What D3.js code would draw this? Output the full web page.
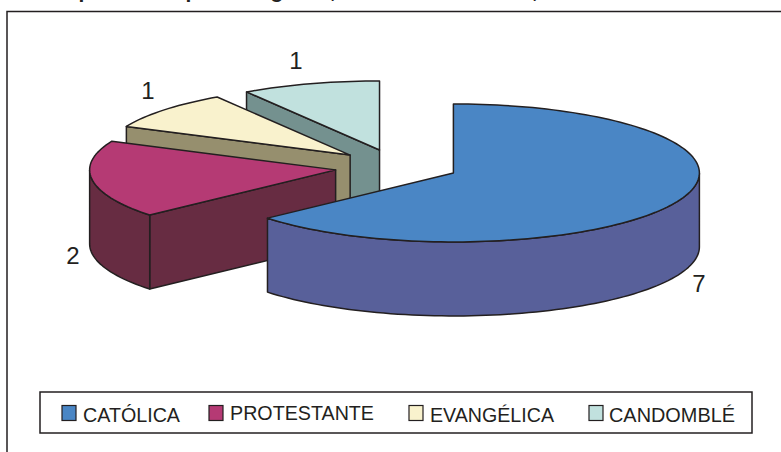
<!DOCTYPE html>
<html>
<head>
<meta charset="utf-8">
<script src="https://cdn.jsdelivr.net/npm/d3@7"></script>
<style>
  html, body { margin: 0; padding: 0; background: #fff; overflow: hidden; }
  text { font-family: "Liberation Sans", Arial, sans-serif; fill: #231f20; }
</style>
</head>
<body>
<svg id="chart" width="781" height="452"></svg>
<script>
const categories = ['CATÓLICA', 'PROTESTANTE', 'EVANGÉLICA', 'CANDOMBLÉ'];
const values = [7, 2, 1, 1];
const topColors = ['#4a86c5', '#b53a74', '#f9f2cd', '#c1e1de'];
const sideColors = ['#58609a', '#672c42', '#968f6e', '#74918f'];

// pie layout
const centerX = 397, centerY = 166;
const radiusX = 246, radiusY = 69, depth = 74;
const explodeX = 62, explodeY = 16.7;
const nudgeY = [0, 1.5, 0, 0];
const labelPos = [[699, 292], [73, 264], [148, 99], [296, 69]];

// legend layout
const legendSwatchX = [62, 209, 409, 589];
const legendTextX = [83, 230, 430, 609];
const legendBaseline = [422, 420, 422, 422];
const legendTextWidth = [97, 144, 124, 126];

const outline = '#231f20';
const svg = d3.select('#chart');

// what is left of the cropped heading above the frame
const headingMarks = [['p', 85], ['p', 192], ['g', 277], [',', 333], [',', 535]];
svg.selectAll('text.heading')
  .data(headingMarks)
  .join('text')
  .attr('class', 'heading')
  .attr('x', (d) => d[1])
  .attr('y', -2)
  .attr('text-anchor', 'middle')
  .attr('font-size', 21)
  .attr('font-weight', 'bold')
  .text((d) => d[0]);

// outer frame, runs off the right and bottom of the page
svg.append('path')
  .attr('d', 'M7,460V11.5H790')
  .attr('fill', 'none')
  .attr('stroke', outline)
  .attr('stroke-width', 1.5);

const slices = d3.pie().sort(null).value((d) => d)(values);

const scaleX = d3.scaleLinear().domain([-1, 1]).range([-radiusX, radiusX]);
const scaleY = d3.scaleLinear().domain([-1, 1]).range([radiusY, -radiusY]);
const line = d3.line();

function sliceCenter(s, i) {
  const mid = (s.startAngle + s.endAngle) / 2;
  return [
    centerX + explodeX * Math.sin(mid),
    centerY - explodeY * Math.cos(mid) + nudgeY[i],
  ];
}

function rim(c, angle) {
  return [c[0] + scaleX(Math.sin(angle)), c[1] + scaleY(Math.cos(angle))];
}

function rimPoints(c, a0, a1) {
  const n = Math.max(2, Math.ceil((a1 - a0) / 0.03));
  return d3.range(n + 1).map((k) => rim(c, a0 + ((a1 - a0) * k) / n));
}

const down = (p) => [p[0], p[1] + depth];

function drawFace(points, fill) {
  svg.append('path')
    .attr('d', line(points) + 'Z')
    .attr('fill', fill)
    .attr('stroke', outline)
    .attr('stroke-width', 1.5)
    .attr('stroke-linejoin', 'round');
}

// back to front so the nearer slices cover the farther ones
d3.range(slices.length).reverse().forEach((i) => {
  const s = slices[i];
  const c = sliceCenter(s, i);

  // cut face, only seen when it sits on the left side
  if (s.startAngle > Math.PI) {
    const p = rim(c, s.startAngle);
    drawFace([c, p, down(p), down(c)], sideColors[i]);
  }

  // outer wall, only the near half of the rim
  const a0 = Math.max(s.startAngle, Math.PI / 2);
  const a1 = Math.min(s.endAngle, (3 * Math.PI) / 2);
  if (a1 > a0) {
    const arc = rimPoints(c, a0, a1);
    drawFace(arc.concat(arc.slice().reverse().map(down)), sideColors[i]);
  }

  drawFace([c].concat(rimPoints(c, s.startAngle, s.endAngle)), topColors[i]);
});

// value labels
svg.selectAll('text.value')
  .data(values)
  .join('text')
  .attr('class', 'value')
  .attr('x', (d, i) => labelPos[i][0])
  .attr('y', (d, i) => labelPos[i][1])
  .attr('text-anchor', 'middle')
  .attr('font-size', 24)
  .text((d) => d);

// legend
svg.append('rect')
  .attr('x', 40)
  .attr('y', 392)
  .attr('width', 712)
  .attr('height', 41)
  .attr('fill', '#fff')
  .attr('stroke', outline)
  .attr('stroke-width', 1.5);

const legend = svg.selectAll('g.legend-item')
  .data(categories)
  .join('g')
  .attr('class', 'legend-item');

legend.append('rect')
  .attr('x', (d, i) => legendSwatchX[i])
  .attr('y', 405.5)
  .attr('width', 14)
  .attr('height', 15)
  .attr('fill', (d, i) => topColors[i])
  .attr('stroke', outline)
  .attr('stroke-width', 1.2);

legend.append('text')
  .attr('x', (d, i) => legendTextX[i])
  .attr('y', (d, i) => legendBaseline[i])
  .attr('font-size', 21)
  .attr('textLength', (d, i) => legendTextWidth[i])
  .attr('lengthAdjust', 'spacingAndGlyphs')
  .text((d) => d);
</script>
</body>
</html>
